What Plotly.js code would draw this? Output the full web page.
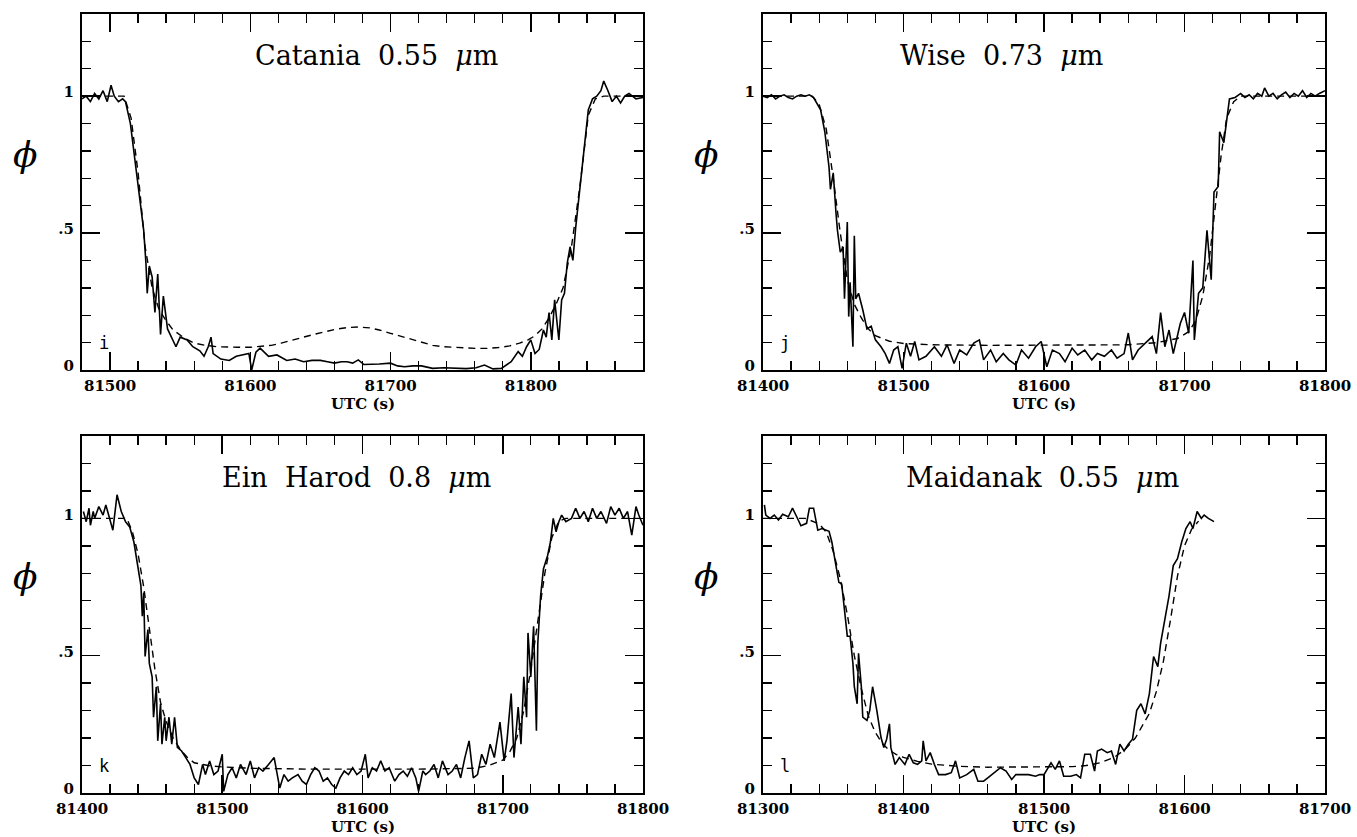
<!DOCTYPE html>
<html><head><meta charset="utf-8">
<script src="https://cdn.plot.ly/plotly-3.0.1.min.js"></script>
<style>html,body{margin:0;padding:0;background:#fff}#plot{width:1357px;height:837px}</style>
</head><body><div id="plot"></div>
<script>
// ---------- Panel titles and tick labels ----------
const panelTitles = ['Catania\u00a0\u00a00.55\u00a0\u00a0<i>\u03bc</i>m', 'Wise\u00a0\u00a00.73\u00a0\u00a0<i>\u03bc</i>m',
                     'Ein\u00a0\u00a0Harod\u00a0\u00a00.8\u00a0\u00a0<i>\u03bc</i>m', 'Maidanak\u00a0\u00a00.55\u00a0\u00a0<i>\u03bc</i>m'];
const panelLetters = ['i', 'j', 'k', 'l'];
const yTickVals = [0, 0.5, 1];
const yTickText = ['0', '.5', '1'];
const xRanges = [[81480, 81880], [81400, 81800], [81400, 81800], [81300, 81700]];

// ---------- Catania 0.55 um (i) ----------
const catT = [81480,81483,81486,81489,81492,81495,81498,81500.7,81503,81506,81509,81511,81514.5,81519,81521,81524,81525.6,81526.5,81528,81530,81532,81534,81536,81538,81541,81544,81547,81550,81555,81559,81564,81567,81570,81572,81573.5,81579,81585,81590,81595,81599,81601,81604,81607,81613,81619,81626,81632,81638,81644,81650,81655,81660,81665,81669,81673,81677,81681,81685,81692,81700,81705,81710,81716,81722,81730,81738,81746,81754,81761,81767,81773,81779,81786,81791,81794,81797,81800,81803,81806,81809,81811,81813,81815,81817,81820,81822,81824,81826,81828,81830,81832,81835,81838,81841,81844,81847,81850,81852,81855,81858,81861,81864,81867,81870,81875,81880];
const catPhi = [0.99,1.0,0.98,1.01,0.99,1.02,0.98,1.04,1.0,0.98,0.99,0.98,0.90,0.72,0.62,0.51,0.39,0.28,0.38,0.34,0.21,0.35,0.13,0.27,0.15,0.12,0.085,0.12,0.11,0.085,0.07,0.05,0.085,0.12,0.06,0.04,0.035,0.05,0.055,0.06,0.0,0.065,0.08,0.05,0.055,0.035,0.04,0.03,0.035,0.035,0.03,0.025,0.03,0.03,0.025,0.037,0.02,0.02,0.022,0.025,0.015,0.012,0.015,0.015,0.006,0.008,0.006,0.005,0.008,0.018,0.004,0.006,0.03,0.067,0.05,0.085,0.11,0.06,0.075,0.146,0.12,0.21,0.11,0.256,0.11,0.256,0.28,0.39,0.45,0.40,0.52,0.67,0.82,0.95,0.99,1.0,1.02,1.055,1.02,0.98,1.0,0.975,1.0,1.01,0.99,0.995];
const catFitT = [81480,81510,81515,81520,81525,81530,81535,81540,81545,81552,81560,81568,81576,81584,81591,81600,81607,81615,81622,81630,81638,81646,81653,81661,81669,81677,81685,81692,81700,81708,81715,81723,81730,81738,81746,81754,81761,81769,81777,81785,81792,81798,81803,81808,81813,81818,81823,81829,81835,81841,81846,81852,81880];
const catFitPhi = [1.0,1.0,0.92,0.72,0.45,0.30,0.22,0.18,0.146,0.12,0.098,0.09,0.085,0.083,0.083,0.083,0.085,0.09,0.098,0.108,0.12,0.131,0.14,0.149,0.155,0.157,0.154,0.146,0.134,0.122,0.11,0.1,0.09,0.085,0.082,0.079,0.079,0.079,0.082,0.088,0.098,0.11,0.125,0.15,0.19,0.24,0.30,0.45,0.67,0.93,0.99,1.0,1.0];

// ---------- Wise 0.73 um (j) ----------
const wiseT = [81400,81403,81406,81409,81412,81415,81418,81421,81424,81427,81430,81433,81436,81441,81444,81447,81448,81450,81452,81453,81455,81457,81458,81460,81461,81462,81464,81465,81466,81468,81471,81474,81477,81480,81484,81487,81490,81493,81496,81499,81502,81505,81508,81511,81516,81522,81527,81531,81536,81540,81545,81550,81554,81557,81562,81566,81571,81575,81580,81584,81589,81594,81598,81602,81606,81611,81615,81620,81624,81629,81634,81638,81643,81648,81652,81657,81660,81663,81667,81672,81677,81680,81683,81686,81689,81692,81697,81700,81703,81706,81707,81710,81713,81716,81719,81721,81724,81725,81728,81732,81736,81740,81743,81746,81749,81752,81755,81757,81760,81763,81766,81769,81772,81775,81778,81781,81784,81787,81790,81793,81796,81800];
const wisePhi = [1.0,0.995,1.005,0.99,1.0,1.005,0.995,0.99,1.0,1.005,1.0,1.005,0.995,0.95,0.87,0.74,0.66,0.72,0.57,0.51,0.43,0.45,0.26,0.54,0.195,0.32,0.085,0.49,0.26,0.28,0.22,0.15,0.16,0.11,0.085,0.06,0.024,0.073,0.085,0.006,0.098,0.05,0.104,0.037,0.05,0.085,0.05,0.092,0.024,0.073,0.055,0.098,0.11,0.037,0.073,0.03,0.06,0.037,0.018,0.073,0.043,0.085,0.104,0.012,0.073,0.06,0.03,0.08,0.055,0.073,0.037,0.06,0.05,0.073,0.043,0.06,0.135,0.037,0.073,0.098,0.122,0.06,0.21,0.085,0.146,0.06,0.17,0.21,0.134,0.40,0.11,0.28,0.30,0.51,0.33,0.65,0.67,0.87,0.83,0.99,0.995,1.01,0.995,1.005,0.99,1.01,1.0,1.03,1.0,1.01,0.99,1.005,1.015,0.995,1.01,1.0,1.02,0.995,1.01,1.0,1.01,1.02];
const wiseFitT = [81400,81435,81440,81445,81450,81455,81460,81465,81470,81475,81480,81490,81500,81520,81560,81600,81640,81660,81680,81695,81703,81708,81713,81718,81722,81726,81730,81735,81740,81800];
const wiseFitPhi = [1.0,1.0,0.97,0.88,0.70,0.50,0.33,0.24,0.19,0.15,0.125,0.105,0.097,0.092,0.09,0.09,0.09,0.092,0.1,0.115,0.14,0.18,0.27,0.42,0.6,0.78,0.92,0.98,1.0,1.0];

// ---------- Ein Harod 0.8 um (k) ----------
const einT = [81401,81403,81405,81406,81408,81409,81412,81415,81417,81420,81422,81425,81428,81431,81434,81437,81439,81442,81443,81444,81445,81447,81448,81450,81451,81453,81454,81456,81457,81459,81460,81462,81464,81466,81468,81471,81474,81477,81480,81483,81486,81488,81491,81494,81497,81500,81501,81504,81507,81510,81513,81517,81520,81523,81526,81529,81533,81537,81541,81544,81547,81550,81554,81557,81560,81563,81566,81569,81572,81575,81578,81581,81584,81587,81590,81593,81596,81599,81602,81604,81607,81610,81613,81616,81619,81623,81626,81629,81632,81635,81638,81640,81643,81645,81648,81651,81654,81657,81661,81664,81667,81670,81673,81676,81679,81682,81685,81688,81691,81694,81698,81701,81703,81706,81708,81711,81713,81715,81717,81718,81720,81722,81724,81725,81727,81729,81732,81734,81736,81738,81740,81742,81745,81749,81752,81755,81758,81761,81764,81767,81770,81774,81777,81780,81783,81786,81789,81792,81795,81797,81800];
const einPhi = [1.025,0.988,1.037,0.975,1.025,1.0,1.043,1.012,1.049,0.988,0.957,1.086,1.025,0.988,0.969,0.914,0.853,0.755,0.644,0.73,0.497,0.595,0.472,0.423,0.276,0.387,0.19,0.325,0.178,0.276,0.19,0.276,0.178,0.276,0.166,0.153,0.129,0.104,0.055,0.031,0.104,0.067,0.117,0.067,0.08,0.141,0.006,0.067,0.092,0.055,0.104,0.067,0.117,0.055,0.092,0.08,0.104,0.129,0.018,0.067,0.043,0.055,0.067,0.043,0.031,0.067,0.092,0.08,0.043,0.055,0.031,0.018,0.055,0.08,0.067,0.092,0.067,0.08,0.141,0.055,0.092,0.08,0.117,0.08,0.092,0.043,0.067,0.08,0.061,0.092,0.055,0.006,0.08,0.067,0.08,0.104,0.055,0.117,0.067,0.08,0.104,0.055,0.129,0.19,0.055,0.067,0.141,0.104,0.178,0.129,0.258,0.117,0.19,0.362,0.129,0.313,0.178,0.423,0.276,0.583,0.423,0.607,0.227,0.546,0.718,0.816,0.865,0.914,1.0,0.951,0.988,1.012,0.988,1.0,1.037,1.0,1.025,0.988,1.037,1.0,1.025,0.982,1.043,1.012,1.037,1.0,1.025,0.939,1.043,1.012,0.975];
const einFitT = [81400,81432,81436,81440,81444,81448,81452,81456,81460,81465,81470,81475,81480,81490,81500,81520,81560,81600,81640,81680,81690,81700,81705,81710,81715,81720,81725,81730,81735,81740,81745,81800];
const einFitPhi = [1.0,1.0,0.95,0.87,0.75,0.6,0.45,0.33,0.26,0.2,0.16,0.13,0.11,0.1,0.095,0.09,0.087,0.087,0.087,0.09,0.1,0.12,0.15,0.2,0.3,0.45,0.62,0.8,0.93,0.99,1.0,1.0];

// ---------- Maidanak 0.55 um (l) ----------
const maiT = [81301,81302,81305,81308,81311,81314,81318,81321,81324,81327,81331,81333,81336,81339,81342,81347,81349,81351,81354,81356,81358,81360,81362,81364,81365,81367,81368,81370,81371,81374,81376,81378,81381,81384,81386,81388,81390,81391,81394,81397,81401,81404,81407,81410,81413,81414,81416,81419,81422,81425,81430,81434,81437,81440,81445,81450,81453,81457,81460,81465,81469,81473,81477,81480,81485,81489,81494,81497,81500,81505,81508,81511,81514,81519,81523,81526,81529,81533,81536,81538,81541,81545,81548,81551,81554,81557,81560,81563,81566,81569,81572,81575,81578,81581,81583,81586,81589,81592,81595,81598,81601,81604,81606,81609,81612,81614,81617,81621];
const maiPhi = [1.049,1.012,1.0,1.012,0.994,1.015,1.006,1.037,1.006,0.973,0.982,1.037,1.037,0.957,0.963,0.953,0.914,0.853,0.767,0.761,0.669,0.571,0.571,0.472,0.387,0.325,0.509,0.387,0.276,0.264,0.301,0.387,0.301,0.202,0.166,0.196,0.252,0.166,0.104,0.129,0.104,0.141,0.11,0.104,0.117,0.19,0.117,0.147,0.104,0.067,0.067,0.074,0.117,0.055,0.067,0.086,0.043,0.043,0.055,0.074,0.092,0.08,0.049,0.067,0.067,0.067,0.061,0.067,0.067,0.11,0.086,0.117,0.061,0.061,0.067,0.055,0.141,0.141,0.08,0.153,0.16,0.147,0.153,0.104,0.178,0.153,0.178,0.196,0.301,0.325,0.288,0.362,0.497,0.46,0.546,0.632,0.718,0.828,0.853,0.914,0.963,0.988,0.963,1.025,1.0,1.012,1.0,0.988];
const maiFitT = [81300,81330,81340,81345,81350,81355,81360,81365,81370,81375,81380,81385,81390,81395,81400,81410,81420,81440,81460,81500,81520,81530,81540,81550,81558,81565,81570,81575,81580,81585,81590,81595,81600,81605,81610];
const maiFitPhi = [1.0,1.0,0.98,0.95,0.88,0.78,0.65,0.5,0.38,0.28,0.22,0.18,0.155,0.14,0.13,0.115,0.105,0.097,0.094,0.094,0.096,0.1,0.11,0.13,0.16,0.2,0.245,0.29,0.37,0.48,0.63,0.79,0.9,0.96,0.99];

// ---------- Build figure ----------
const series = [[catT, catPhi, catFitT, catFitPhi], [wiseT, wisePhi, wiseFitT, wiseFitPhi],
                [einT, einPhi, einFitT, einFitPhi], [maiT, maiPhi, maiFitT, maiFitPhi]];

const W = 1357, H = 837;
// pixel boxes [left, right, top, bottom]
const boxes = [[82, 643, 14, 370], [763, 1325, 14, 370], [82, 643, 436, 793], [763, 1325, 436, 793]];
const tickFont = {family: 'DejaVu Serif', size: 15, color: '#000', weight: 'bold'};
const traces = [];
const layout = {
  width: W, height: H, margin: {l: 0, r: 0, t: 0, b: 0},
  paper_bgcolor: '#fff', plot_bgcolor: '#fff', showlegend: false,
  annotations: []
};
series.forEach((s, i) => {
  const n = i + 1;
  const xa = 'x' + (n === 1 ? '' : n), ya = 'y' + (n === 1 ? '' : n);
  const xk = 'xaxis' + (n === 1 ? '' : n), yk = 'yaxis' + (n === 1 ? '' : n);
  traces.push({x: s[2], y: s[3], xaxis: xa, yaxis: ya, mode: 'lines', line: {color: '#000', width: 1.4, dash: '7px,5px'}, hoverinfo: 'skip'});
  traces.push({x: s[0], y: s[1], xaxis: xa, yaxis: ya, mode: 'lines', line: {color: '#000', width: 1.6}, hoverinfo: 'skip'});
  const b = boxes[i];
  layout[xk] = {
    domain: [b[0] / W, b[1] / W], anchor: ya, range: xRanges[i],
    showgrid: false, zeroline: false, showline: true, linecolor: '#000', linewidth: 2, mirror: 'allticks',
    ticks: 'inside', ticklen: 18, tickwidth: 1.6, tickcolor: '#000', dtick: 100, tick0: 0,
    minor: {ticks: 'inside', ticklen: 9, tickwidth: 1.4, tickcolor: '#000', dtick: 20, tick0: 0, showgrid: false},
    tickfont: tickFont, tickformat: 'd', ticklabelstandoff: 1
  };
  layout[yk] = {
    domain: [1 - b[3] / H, 1 - b[2] / H], anchor: xa, range: [0, 1.3],
    showgrid: false, zeroline: false, showline: true, linecolor: '#000', linewidth: 2, mirror: 'allticks',
    ticks: 'inside', ticklen: 18, tickwidth: 1.6, tickcolor: '#000',
    tickmode: 'array', tickvals: yTickVals, ticktext: yTickText,
    minor: {ticks: 'inside', ticklen: 9, tickwidth: 1.4, tickcolor: '#000', tickmode: 'linear', dtick: 0.1, tick0: 0, showgrid: false},
    tickfont: tickFont, ticklabelstandoff: 3, ticklabelshift: -4
  };
  const titleX = [0.525, 0.424, 0.49, 0.497][i];
  layout.annotations.push({xref: xa + ' domain', yref: ya, x: titleX, y: 1.15, text: panelTitles[i], showarrow: false,
    xanchor: 'center', yanchor: 'middle', font: {family: 'DejaVu Serif', size: 27, color: '#000'}});
  layout.annotations.push({xref: xa + ' domain', yref: ya, x: 0.04, y: 0.1, text: panelLetters[i], showarrow: false,
    xanchor: 'center', yanchor: 'middle', font: {family: 'DejaVu Sans Mono', size: 17, color: '#000'}});
  layout.annotations.push({xref: 'paper', yref: 'paper', x: (b[0] - 57) / W, y: 1 - (b[2] + 140) / H, text: '<i>\u03d5</i>', showarrow: false,
    xanchor: 'center', yanchor: 'middle', font: {family: 'DejaVu Serif', size: 36, color: '#000'}});
  layout.annotations.push({xref: xa + ' domain', yref: 'paper', x: 0.5, y: 1 - (b[3] + 34) / H, text: '<b>UTC (s)</b>', showarrow: false,
    xanchor: 'center', yanchor: 'middle', font: {family: 'DejaVu Serif', size: 15, color: '#000'}});
});
Plotly.newPlot('plot', traces, layout, {staticPlot: true});
</script>
</body></html>
